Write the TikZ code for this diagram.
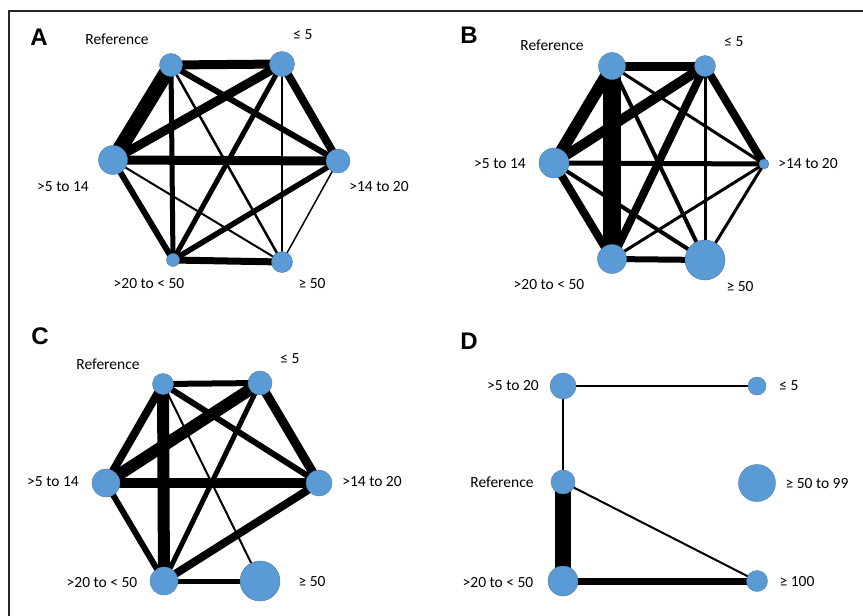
\documentclass[tikz,border=0pt]{standalone}
\usepackage{fontspec}
\setmainfont{Carlito}
\newfontfamily\panelfont{Liberation Sans}
\usetikzlibrary{backgrounds}
\definecolor{nodeblue}{HTML}{5B9BD5}
\tikzset{
  grp/.style={circle, fill=nodeblue, draw=nodeblue!80!black, line width=0.4pt, inner sep=0pt},
  lbl/.style={font=\fontsize{15.5}{17}\selectfont, text height=0.64em, text depth=0pt, inner sep=0pt},
  panel/.style={font=\panelfont\bfseries\fontsize{24}{26}\selectfont, text height=0.72em, text depth=0pt, inner sep=0pt}
}
\begin{document}
\begin{tikzpicture}[x=1pt, y=-1pt]
	\useasboundingbox (0,0) rectangle (863,616);
	\draw[line width=2pt, black!85] (8.5,616) -- (8.5,10.5) -- (863,10.5);

	% panel A
	\node (pA) [panel] at (39,42) {A};
	\node (aref) [grp, minimum size=23pt] at (171,65) {};
	\node (ale5) [grp, minimum size=25pt] at (282,64) {};
	\node (a514) [grp, minimum size=29pt] at (113,160) {};
	\node (a1420) [grp, minimum size=24pt] at (338,161) {};
	\node (a2050) [grp, minimum size=13pt] at (173,260) {};
	\node (age50) [grp, minimum size=21pt] at (282,262) {};
	\node (laref) [lbl] at (117,41) {Reference};
	\node (lale5) [lbl] at (303,36) {≤ 5};
	\node (la514) [lbl] at (63,188) {>5 to 14};
	\node (la1420) [lbl] at (379,188) {>14 to 20};
	\node (la2050) [lbl] at (149,285) {>20 to < 50};
	\node (lage50) [lbl] at (312,285) {≥ 50};
	\begin{scope}[on background layer]
	\draw[line width=9pt] (aref.center) -- (ale5.center);
	\draw[line width=15pt] (aref.center) -- (a514.center);
	\draw[line width=6pt] (aref.center) -- (a1420.center);
	\draw[line width=5pt] (aref.center) -- (a2050.center);
	\draw[line width=2.5pt] (aref.center) -- (age50.center);
	\draw[line width=9pt] (ale5.center) -- (a514.center);
	\draw[line width=8pt] (ale5.center) -- (a1420.center);
	\draw[line width=5pt] (ale5.center) -- (a2050.center);
	\draw[line width=2pt] (ale5.center) -- (age50.center);
	\draw[line width=9pt] (a514.center) -- (a1420.center);
	\draw[line width=6pt] (a514.center) -- (a2050.center);
	\draw[line width=2pt] (a514.center) -- (age50.center);
	\draw[line width=5.5pt] (a1420.center) -- (a2050.center);
	\draw[line width=1.5pt] (a1420.center) -- (age50.center);
	\draw[line width=7pt] (a2050.center) -- (age50.center);
	\end{scope}

	% panel B
	\node (pB) [panel] at (469,40) {B};
	\node (bref) [grp, minimum size=27pt] at (612,66) {};
	\node (ble5) [grp, minimum size=21pt] at (705,66) {};
	\node (b514) [grp, minimum size=30pt] at (554,163) {};
	\node (b1420) [grp, minimum size=10pt] at (764,164) {};
	\node (b2050) [grp, minimum size=29pt] at (612,259) {};
	\node (bge50) [grp, minimum size=40pt] at (705,260) {};
	\node (lbref) [lbl] at (552,47) {Reference};
	\node (lble5) [lbl] at (734,43) {≤ 5};
	\node (lb514) [lbl] at (500,165) {>5 to 14};
	\node (lb1420) [lbl] at (808,165) {>14 to 20};
	\node (lb2050) [lbl] at (549,286) {>20 to < 50};
	\node (lbge50) [lbl] at (740,288) {≥ 50};
	\begin{scope}[on background layer]
	\draw[line width=9pt] (bref.center) -- (ble5.center);
	\draw[line width=12pt] (bref.center) -- (b514.center);
	\draw[line width=3pt] (bref.center) -- (b1420.center);
	\draw[line width=18pt] (bref.center) -- (b2050.center);
	\draw[line width=4pt] (bref.center) -- (bge50.center);
	\draw[line width=10pt] (ble5.center) -- (b514.center);
	\draw[line width=8pt] (ble5.center) -- (b1420.center);
	\draw[line width=8pt] (ble5.center) -- (b2050.center);
	\draw[line width=3pt] (ble5.center) -- (bge50.center);
	\draw[line width=5pt] (b514.center) -- (b1420.center);
	\draw[line width=8pt] (b514.center) -- (b2050.center);
	\draw[line width=4pt] (b514.center) -- (bge50.center);
	\draw[line width=3pt] (b1420.center) -- (b2050.center);
	\draw[line width=3pt] (b1420.center) -- (bge50.center);
	\draw[line width=6pt] (b2050.center) -- (bge50.center);
	\end{scope}

	% panel C
	\node (pC) [panel] at (40,341) {C};
	\node (cref) [grp, minimum size=21pt] at (163,384) {};
	\node (cle5) [grp, minimum size=24pt] at (260,383) {};
	\node (c514) [grp, minimum size=28pt] at (106,483) {};
	\node (c1420) [grp, minimum size=26pt] at (319,483) {};
	\node (c2050) [grp, minimum size=28pt] at (164,581) {};
	\node (cge50) [grp, minimum size=40pt] at (260,581) {};
	\node (lcref) [lbl] at (108,366) {Reference};
	\node (lcle5) [lbl] at (290,360) {≤ 5};
	\node (lc514) [lbl] at (53,483) {>5 to 14};
	\node (lc1420) [lbl] at (372,483) {>14 to 20};
	\node (lc2050) [lbl] at (102,584) {>20 to < 50};
	\node (lcge50) [lbl] at (312,583) {≥ 50};
	\begin{scope}[on background layer]
	\draw[line width=6pt] (cref.center) -- (cle5.center);
	\draw[line width=8pt] (cref.center) -- (c514.center);
	\draw[line width=6pt] (cref.center) -- (c1420.center);
	\draw[line width=12pt] (cref.center) -- (c2050.center);
	\draw[line width=2pt] (cref.center) -- (cge50.center);
	\draw[line width=12pt] (cle5.center) -- (c514.center);
	\draw[line width=9pt] (cle5.center) -- (c1420.center);
	\draw[line width=5pt] (cle5.center) -- (c2050.center);
	\draw[line width=10pt] (c514.center) -- (c1420.center);
	\draw[line width=6pt] (c514.center) -- (c2050.center);
	\draw[line width=8pt] (c1420.center) -- (c2050.center);
	\draw[line width=5pt] (c2050.center) -- (cge50.center);
	\end{scope}

	% panel D
	\node (pD) [panel] at (469,346) {D};
	\node (d520) [grp, minimum size=26pt] at (563,386) {};
	\node (dle5) [grp, minimum size=18pt] at (757,386) {};
	\node (dref) [grp, minimum size=24pt] at (563,482) {};
	\node (d5099) [grp, minimum size=37pt] at (757,483) {};
	\node (d2050) [grp, minimum size=30pt] at (563,581) {};
	\node (dge100) [grp, minimum size=21pt] at (757,581) {};
	\node (ld520) [lbl] at (513,387) {>5 to 20};
	\node (ldle5) [lbl] at (789,387) {≤ 5};
	\node (ldref) [lbl] at (502,484) {Reference};
	\node (ld5099) [lbl] at (817,485) {≥ 50 to 99};
	\node (ld2050) [lbl] at (498,584) {>20 to < 50};
	\node (ldge100) [lbl] at (797,583) {≥ 100};
	\begin{scope}[on background layer]
	\draw[line width=2pt] (d520.center) -- (dle5.center);
	\draw[line width=2pt] (d520.center) -- (dref.center);
	\draw[line width=16pt] (dref.center) -- (d2050.center);
	\draw[line width=2pt] (dref.center) -- (dge100.center);
	\draw[line width=7pt] (d2050.center) -- (dge100.center);
	\end{scope}
\end{tikzpicture}
\end{document}
